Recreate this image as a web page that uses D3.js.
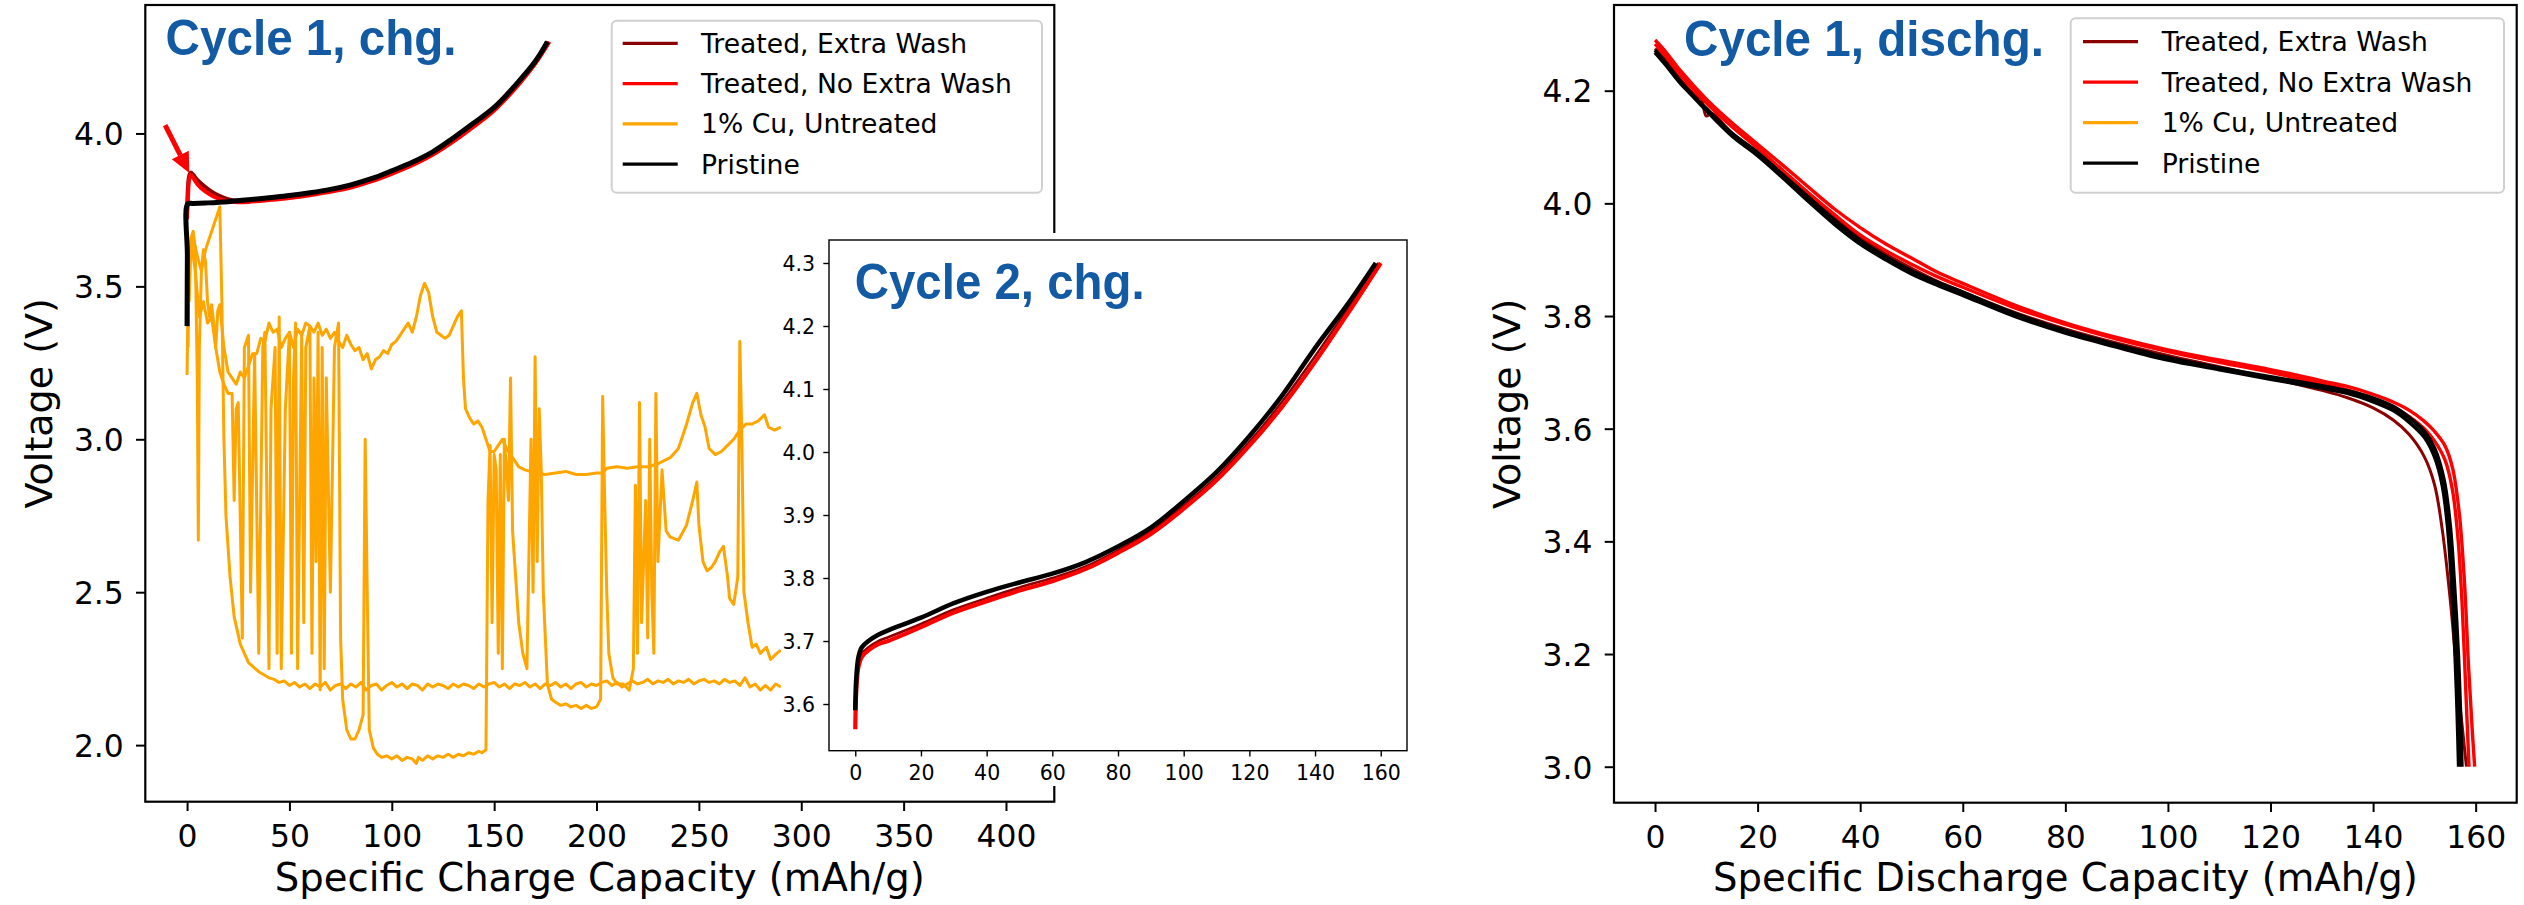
<!DOCTYPE html>
<html>
<head>
<meta charset="utf-8">
<script src="https://cdn.jsdelivr.net/npm/d3@7"></script>
<style>
  body { margin: 0; background: #fff; }
  svg { display: block; }
</style>
</head>
<body>
<svg id="fig" width="2524" height="905"></svg>
<script>
// ---------------- legend ----------------
const legendLabels = ["Treated, Extra Wash", "Treated, No Extra Wash", "1% Cu, Untreated", "Pristine"];
const legendColors = ["#8b0000", "#ff0000", "#ffa500", "#000000"];

// ---------------- ticks ----------------
const chgTicksX = [0, 50, 100, 150, 200, 250, 300, 350, 400];
const chgTicksY = [2.0, 2.5, 3.0, 3.5, 4.0];
const insetTicksX = [0, 20, 40, 60, 80, 100, 120, 140, 160];
const insetTicksY = [3.6, 3.7, 3.8, 3.9, 4.0, 4.1, 4.2, 4.3];
const dchgTicksX = [0, 20, 40, 60, 80, 100, 120, 140, 160];
const dchgTicksY = [3.0, 3.2, 3.4, 3.6, 3.8, 4.0, 4.2];

// ---------------- cycle 1 charge: [capacity mAh/g, voltage V] ----------------
const c1ChgPristine = [[0,3.37],[0.15,3.6],[0.35,3.77],[3,3.771],[10,3.773],[20,3.777],[30,3.783],[40,3.79],[50,3.797],[60,3.806],[70,3.817],[80,3.832],[90,3.852],[100,3.878],[110,3.906],[120,3.94],[130,3.985],[140,4.034],[150,4.085],[160,4.155],[170,4.235],[176,4.30]];
const c1ChgNoWash = [[0,3.72],[0.5,3.80],[1,3.85],[1.8,3.865],[3,3.855],[5,3.835],[8,3.815],[12,3.797],[16,3.785],[20,3.778],[25,3.775],[30,3.776],[40,3.782],[50,3.789],[60,3.798],[70,3.809],[80,3.823],[90,3.843],[100,3.868],[110,3.896],[120,3.93],[130,3.973],[140,4.022],[150,4.075],[160,4.145],[170,4.228],[177,4.30]];
const c1ChgExtraWash = [[0,3.75],[0.5,3.83],[1,3.86],[1.8,3.872],[3,3.865],[5,3.848],[8,3.83],[12,3.81],[16,3.795],[20,3.785],[25,3.779],[30,3.781],[40,3.788],[50,3.795],[60,3.804],[70,3.815],[80,3.83],[90,3.85],[100,3.876],[110,3.904],[120,3.938],[130,3.982],[140,4.031],[150,4.082],[160,4.152],[170,4.232],[176.5,4.30]];

// 1% Cu untreated cells, cycle 1 charge
const c1ChgCuA = [[0,3.21],[0.3,3.36],[1,3.60],[2,3.66],[3,3.68],[4,3.62],[5,3.2],[5.5,2.67],[6,3.3],[7,3.55],[8,3.62],[9,3.58],[10,3.45],[11,3.40],[12,3.44],[13,3.38],[14,3.30],[15,3.42],[16,3.44],[18,3.30],[20,3.22],[22,3.20],[24,3.18],[26,3.22],[28,3.20],[30,3.24],[32,3.28],[34,3.28],[36,3.33],[38,3.32],[40,3.38],[42,3.35],[44,3.36],[46,3.30],[48,3.33],[50,3.35],[52,3.30],[54,3.36],[56,3.34],[58,3.38],[60,3.37],[62,3.35],[64,3.38],[66,3.34],[68,3.36],[70,3.33],[72,3.35],[74,3.32],[76,3.30],[78,3.34],[80,3.31],[82,3.29],[84,3.30],[86,3.26],[88,3.28],[90,3.23],[92,3.26],[94,3.27],[96,3.29],[98,3.28],[100,3.31],[102,3.32],[104,3.34],[106,3.36],[108,3.38],[110,3.35],[112,3.40],[114,3.47],[116,3.51],[118,3.48],[120,3.40],[122,3.35],[124,3.34],[126,3.33],[128,3.34],[130,3.37],[132,3.40],[134,3.42],[135,3.20],[136,3.10],[138,3.07],[140,3.05],[142,3.06],[144,3.04],[146,3.0],[148,2.96],[150,2.96],[152,2.98],[154,3.00],[156,2.97],[158,2.95],[160,2.93],[162,2.91],[165,2.90],[170,2.89],[175,2.885],[180,2.89],[185,2.895],[190,2.885],[195,2.885],[200,2.89],[203,2.89],[205,2.905],[210,2.91],[215,2.905],[220,2.91],[225,2.91],[230,2.92],[233,2.93],[236,2.94],[240,2.97],[244,3.05],[247,3.12],[249,3.15],[251,3.08],[253,3.04],[255,2.97],[258,2.95],[261,2.96],[264,2.98],[267,3.00],[270,3.03],[273,3.05],[276,3.05],[279,3.06],[282,3.08],[284,3.04],[287,3.03],[290,3.04]];
const c1ChgCuB = [[0.5,3.30],[1,3.62],[3,3.66],[5,3.60],[7,3.55],[9,3.62],[11,3.66],[13,3.70],[15,3.74],[16,3.76],[17,3.45],[18,3.0],[19,2.75],[21,2.55],[23,2.42],[26,2.33],[30,2.27],[35,2.24],[40,2.22],[42.5,2.215],[45,2.205],[47.5,2.21],[50,2.195],[52.5,2.205],[55,2.19],[57.5,2.2],[60,2.185],[62.5,2.2],[65,2.19],[67.5,2.205],[70,2.18],[72.5,2.195],[75,2.2],[77.5,2.185],[80,2.2],[82.5,2.19],[85,2.205],[87.5,2.18],[90,2.195],[92.5,2.2],[95,2.18],[97.5,2.195],[100,2.205],[102.5,2.19],[105,2.2],[107.5,2.185],[110,2.2],[112.5,2.195],[115,2.18],[117.5,2.2],[120,2.19],[122.5,2.2],[125,2.195],[127.5,2.185],[130,2.2],[132.5,2.19],[135,2.2],[137.5,2.195],[140,2.185],[142.5,2.2],[145,2.19],[147.5,2.2],[150,2.205],[152.5,2.19],[155,2.2],[157.5,2.185],[160,2.2],[162.5,2.195],[165,2.205],[167.5,2.19],[170,2.2],[172.5,2.185],[175,2.2],[177.5,2.195],[180,2.205],[182.5,2.19],[185,2.2],[187.5,2.185],[190,2.2],[192.5,2.205],[195,2.19],[197.5,2.2],[200,2.195],[202.5,2.205],[205,2.21],[207.5,2.195],[210,2.205],[212.5,2.19],[215,2.2],[217.5,2.21],[220,2.2],[222.5,2.205],[225,2.215],[227.5,2.2],[230,2.21],[232.5,2.205],[235,2.215],[237.5,2.2],[240,2.21],[242.5,2.205],[245,2.215],[247.5,2.2],[250,2.21],[252.5,2.215],[255,2.205],[257.5,2.21],[260,2.2],[262.5,2.215],[265,2.205],[267.5,2.21],[270,2.195],[272.5,2.22],[275,2.19],[277.5,2.2],[280,2.18],[282.5,2.195],[285,2.18],[287.5,2.2],[290,2.19]];
const c1ChgCuC = [[1,3.45],[2,3.65],[4,3.55],[6,3.40],[8,3.45],[10,3.38],[12,3.40],[14,3.30],[16,3.22],[18,3.18],[20,3.15],[22,3.15],[23,2.8],[24,3.1],[25,3.12],[27,2.35],[28,3.3],[30,3.34],[31,2.50],[33,3.28],[35,2.30],[37,3.30],[38,3.35],[40,2.25],[41,3.10],[43,3.30],[44,2.30],[45,3.40],[46,2.25],[48,3.10],[50,3.35],[51,2.30],[52,3.20],[53,3.38],[54,2.25],[56,3.35],[57,2.40],[58,3.30],[60,3.37],[61,2.30],[62,3.20],[63,2.60],[64,3.35],[65,2.18],[66,3.30],[67,2.25],[68,3.20],[70,2.50],[72,3.30],[74,3.38],[75,2.35],[76,2.15],[78,2.05],[80,2.02],[82,2.02],[84,2.05],[86,2.10],[87,3.00],[88,2.50],[89,2.05],[91,1.99],[93,1.97],[95,1.96],[97.5,1.965],[100,1.955],[102.5,1.965],[105,1.95],[107.5,1.96],[110,1.955],[112,1.94],[113,1.96],[115,1.95],[117.5,1.965],[120,1.955],[122.5,1.965],[125,1.96],[127.5,1.97],[130,1.96],[132.5,1.97],[135,1.965],[137.5,1.975],[140,1.97],[142.5,1.98],[144,1.975],[146,1.985],[147,2.8],[148,2.98],[149,2.4],[150,2.95],[151,2.90],[152,2.3],[153,2.95],[154,2.25],[155,3.00],[157,2.8],[158,3.2],[159,2.7],[160,2.6],[162,2.4],[164,2.3],[166,2.25],[168,3.0],[169,2.5],[170,3.27],[171,2.6],[172,3.1],[173,2.9],[174,2.5],[176,2.2],[178,2.15],[180,2.14],[182.5,2.13],[185,2.135],[187.5,2.125],[190,2.13],[192.5,2.12],[195,2.13],[197.5,2.12],[200,2.125],[202,2.15],[203,3.14],[204,2.8],[205,2.5],[206,2.3],[208,2.22],[210,2.2],[213,2.2],[216,2.18],[218,2.25],[219,2.85],[220,2.3],[221,3.12],[222,2.4],[224,2.8],[225,2.35],[226,3.0],[227,2.5],[228,2.3],[229,3.15],[230,2.6],[232,2.9],[234,2.7],[236,2.68],[240,2.67],[244,2.72],[247,2.80],[249,2.86],[250,2.72],[252,2.60],[254,2.57],[256,2.58],[258,2.60],[260,2.63],[262,2.65],[264,2.55],[265,2.48],[267,2.46],[269,2.55],[270,3.32],[271,3.0],[272,2.50],[274,2.40],[276,2.32],[278,2.33],[280,2.30],[283,2.32],[285,2.28],[288,2.30],[290,2.31]];

// ---------------- cycle 2 charge ----------------
const c2ChgPristine = [[0,3.59],[0.3,3.64],[1,3.675],[2,3.69],[4,3.70],[7,3.71],[10,3.717],[20,3.737],[30,3.76],[40,3.778],[50,3.793],[60,3.807],[70,3.825],[80,3.85],[90,3.88],[100,3.922],[110,3.968],[120,4.025],[130,4.09],[140,4.165],[150,4.235],[158.5,4.30]];
const c2ChgNoWash = [[0,3.56],[0.3,3.62],[1,3.66],[2,3.675],[4,3.685],[7,3.695],[10,3.70],[20,3.722],[30,3.745],[40,3.763],[50,3.78],[60,3.795],[70,3.814],[80,3.84],[90,3.87],[100,3.91],[110,3.955],[120,4.01],[130,4.072],[140,4.143],[150,4.22],[160,4.30]];
const c2ChgExtraWash = [[0,3.58],[0.3,3.63],[1,3.665],[2,3.68],[4,3.69],[7,3.70],[10,3.706],[20,3.727],[30,3.75],[40,3.768],[50,3.785],[60,3.8],[70,3.818],[80,3.844],[90,3.875],[100,3.915],[110,3.96],[120,4.016],[130,4.08],[140,4.152],[150,4.228],[159.3,4.30]];

// ---------------- cycle 1 discharge ----------------
const c1DchgPristineA = [[0,4.272],[2,4.25],[5,4.215],[10,4.165],[15,4.12],[20,4.085],[25,4.045],[30,4.003],[35,3.963],[40,3.928],[45,3.9],[50,3.875],[55,3.855],[60,3.837],[70,3.8],[80,3.77],[90,3.745],[100,3.722],[110,3.705],[120,3.688],[130,3.672],[135,3.663],[140,3.648],[144,3.632],[147,3.612],[150,3.585],[152,3.55],[153.5,3.5],[154.5,3.43],[155.3,3.33],[156,3.2],[156.4,3.1],[156.7,3.0]];
const c1DchgPristineB = [[0,4.268],[2,4.247],[5,4.213],[10,4.168],[15,4.124],[20,4.09],[25,4.05],[30,4.01],[35,3.97],[40,3.934],[45,3.905],[50,3.88],[55,3.86],[60,3.842],[70,3.805],[80,3.774],[90,3.749],[100,3.726],[110,3.708],[120,3.692],[130,3.676],[135,3.667],[140,3.654],[144,3.639],[147,3.62],[150,3.595],[152,3.565],[153.8,3.51],[155,3.43],[155.8,3.33],[156.6,3.2],[157,3.1],[157.3,3.0]];
const c1DchgExtraWash = [[0,4.275],[2,4.255],[5,4.22],[8,4.19],[9,4.185],[10,4.155],[11,4.16],[15,4.125],[20,4.09],[25,4.05],[30,4.012],[35,3.975],[40,3.94],[45,3.91],[50,3.885],[55,3.862],[60,3.843],[70,3.807],[80,3.777],[90,3.752],[100,3.73],[110,3.71],[120,3.69],[130,3.668],[135,3.655],[140,3.637],[144,3.615],[147,3.59],[150,3.55],[152,3.5],[153.5,3.42],[155,3.3],[156.5,3.15],[158.2,3.0]];
const c1DchgNoWashA = [[0,4.29],[2,4.27],[5,4.235],[10,4.185],[15,4.143],[20,4.105],[25,4.067],[30,4.028],[35,3.99],[40,3.957],[45,3.928],[50,3.903],[55,3.878],[60,3.858],[70,3.82],[80,3.788],[90,3.762],[100,3.74],[110,3.722],[120,3.705],[130,3.685],[135,3.675],[140,3.661],[144,3.647],[147,3.633],[150,3.613],[152,3.595],[154,3.57],[155.5,3.53],[156.8,3.45],[157.8,3.33],[158.6,3.18],[159.3,3.07],[159.8,3.0]];
const c1DchgNoWashB = [[0,4.283],[2,4.262],[5,4.228],[10,4.178],[15,4.136],[20,4.098],[25,4.058],[30,4.018],[35,3.98],[40,3.944],[45,3.916],[50,3.892],[55,3.87],[60,3.851],[70,3.815],[80,3.785],[90,3.759],[100,3.737],[110,3.718],[120,3.7],[130,3.68],[135,3.669],[140,3.654],[144,3.638],[147,3.622],[150,3.6],[152,3.578],[154,3.545],[155.5,3.49],[156.6,3.4],[157.4,3.28],[158.1,3.13],[158.7,3.0]];

// annotation arrow: tail and head in data units of the cycle 1 charge panel
const arrowTail = [-10.7, 4.027];
const arrowHead = [1.1, 3.871];

// ---------------- drawing ----------------
const svg = d3.select("#fig");
const TICK_FONT = "DejaVu Sans, sans-serif";
const TITLE_BLUE = "#135aa4";

function panel(opt) {
  const x = d3.scaleLinear().domain(opt.xDomain).range([opt.left, opt.right]);
  const y = d3.scaleLinear().domain(opt.yDomain).range([opt.bottom, opt.top]);
  const g = svg.append("g");
  if (opt.background) {
    g.append("rect").attr("x", opt.left).attr("y", opt.top)
      .attr("width", opt.right - opt.left).attr("height", opt.bottom - opt.top)
      .attr("fill", "#fff");
  }
  const clipId = "clip" + Math.round(opt.left);
  g.append("clipPath").attr("id", clipId).append("rect")
    .attr("x", opt.left).attr("y", opt.top)
    .attr("width", opt.right - opt.left).attr("height", opt.bottom - opt.top);
  const plot = g.append("g").attr("clip-path", `url(#${clipId})`);
  return { x, y, g, plot, opt };
}

function drawLine(p, data, color, width, curve) {
  const line = d3.line().x(d => p.x(d[0])).y(d => p.y(d[1])).curve(curve || d3.curveLinear);
  p.plot.append("path").datum(data).attr("d", line)
    .attr("fill", "none").attr("stroke", color).attr("stroke-width", width)
    .attr("stroke-linejoin", "round").attr("stroke-linecap", "butt");
}

function drawAxes(p, a) {
  const o = p.opt;
  const gx = p.g.append("g").attr("transform", `translate(0,${o.bottom})`)
    .call(d3.axisBottom(p.x).tickValues(a.xTicks).tickFormat(d3.format("d"))
      .tickSize(a.tickLen).tickPadding(a.xPad).tickSizeOuter(0));
  const gy = p.g.append("g").attr("transform", `translate(${o.left},0)`)
    .call(d3.axisLeft(p.y).tickValues(a.yTicks).tickFormat(d3.format(".1f"))
      .tickSize(a.tickLen).tickPadding(a.yPad).tickSizeOuter(0));
  [gx, gy].forEach(ax => {
    ax.select(".domain").remove();
    ax.selectAll(".tick line").attr("stroke", "#000").attr("stroke-width", a.tickW);
    ax.selectAll(".tick text").attr("fill", "#000")
      .attr("font-family", TICK_FONT).attr("font-size", a.fontSize);
  });
  gy.selectAll(".tick text").attr("dy", "0.36em");
  p.g.append("rect").attr("x", o.left).attr("y", o.top)
    .attr("width", o.right - o.left).attr("height", o.bottom - o.top)
    .attr("fill", "none").attr("stroke", "#000").attr("stroke-width", a.frameW);
}

function axisTitles(p, xText, yText, yTitleX) {
  const o = p.opt;
  p.g.append("text").attr("x", (o.left + o.right) / 2).attr("y", 891)
    .attr("text-anchor", "middle").attr("font-family", TICK_FONT).attr("font-size", 38.6)
    .text(xText);
  p.g.append("text").attr("transform", `translate(${yTitleX},${(o.top + o.bottom) / 2}) rotate(-90)`)
    .attr("text-anchor", "middle").attr("font-family", TICK_FONT).attr("font-size", 38)
    .text(yText);
}

function panelTitle(p, text, x, yBase, len) {
  p.g.append("text").attr("x", x).attr("y", yBase)
    .attr("font-family", "Liberation Sans, Arial, sans-serif").attr("font-weight", "bold")
    .attr("font-size", 50).attr("fill", TITLE_BLUE)
    .attr("textLength", len).attr("lengthAdjust", "spacingAndGlyphs")
    .text(text);
}

function legend(box) {
  const g = svg.append("g");
  g.append("rect").attr("x", box.x).attr("y", box.y).attr("width", box.w).attr("height", box.h)
    .attr("rx", 5).attr("fill", "#fff").attr("fill-opacity", 0.9)
    .attr("stroke", "#d0d0d0").attr("stroke-width", 2);
  legendLabels.forEach((lab, i) => {
    const cy = box.rowY0 + i * box.rowStep;
    g.append("line").attr("x1", box.hx0).attr("x2", box.hx1).attr("y1", cy).attr("y2", cy)
      .attr("stroke", legendColors[i]).attr("stroke-width", 3.2);
    g.append("text").attr("x", box.tx).attr("y", cy).attr("dy", "0.36em")
      .attr("font-family", TICK_FONT).attr("font-size", 26.6).attr("fill", "#000").text(lab);
  });
}

const smooth = d3.curveCatmullRom.alpha(0.5);

// ===== Cycle 1 charge panel =====
const pL = panel({ left: 145.3, right: 1054.3, top: 5, bottom: 801.7, xDomain: [-20.4, 423.6], yDomain: [1.815, 4.42] });
drawLine(pL, c1ChgExtraWash, legendColors[0], 4, smooth);
drawLine(pL, c1ChgNoWash, legendColors[1], 4, smooth);
drawLine(pL, c1ChgCuA, legendColors[2], 3);
drawLine(pL, c1ChgCuB, legendColors[2], 3);
drawLine(pL, c1ChgCuC, legendColors[2], 3);
drawLine(pL, c1ChgPristine, legendColors[3], 5, smooth);

// red arrow pointing at the first-cycle overshoot
{
  const x1 = pL.x(arrowTail[0]), y1 = pL.y(arrowTail[1]);
  const x2 = pL.x(arrowHead[0]), y2 = pL.y(arrowHead[1]);
  const ang = Math.atan2(y2 - y1, x2 - x1);
  const headLen = 20, headHalf = 9.5;
  const bx = x2 - headLen * Math.cos(ang), by = y2 - headLen * Math.sin(ang);
  pL.g.append("line").attr("x1", x1).attr("y1", y1).attr("x2", bx).attr("y2", by)
    .attr("stroke", "#ff0000").attr("stroke-width", 5);
  const nx = -Math.sin(ang), ny = Math.cos(ang);
  pL.g.append("polygon")
    .attr("points", [[x2, y2], [bx + nx * headHalf, by + ny * headHalf], [bx - nx * headHalf, by - ny * headHalf]].map(p => p.join(",")).join(" "))
    .attr("fill", "#ff0000");
}

drawAxes(pL, { xTicks: chgTicksX, yTicks: chgTicksY, tickLen: 9.3, tickW: 2, xPad: 13.7, yPad: 12.2, fontSize: 31.4, frameW: 2.2 });
axisTitles(pL, "Specific Charge Capacity (mAh/g)", "Voltage (V)", 51.5);
panelTitle(pL, "Cycle 1, chg.", 165.6, 55, 291);
legend({ x: 611.7, y: 20.7, w: 430.3, h: 172, hx0: 622.7, hx1: 677.7, tx: 701, rowY0: 43.3, rowStep: 40.3 });

// ===== Cycle 2 charge inset =====
svg.append("rect").attr("x", 781).attr("y", 233).attr("width", 640).attr("height", 553).attr("fill", "#fff");
const pI = panel({ left: 829, right: 1407, top: 240, bottom: 750.7, xDomain: [-8, 168], yDomain: [3.5259, 4.3365], background: true });
drawLine(pI, c2ChgExtraWash, legendColors[0], 2.5, smooth);
drawLine(pI, c2ChgNoWash, legendColors[1], 4.2, smooth);
drawLine(pI, c2ChgPristine, legendColors[3], 4.6, smooth);
drawAxes(pI, { xTicks: insetTicksX, yTicks: insetTicksY, tickLen: 5.7, tickW: 1.4, xPad: 9.4, yPad: 8.3, fontSize: 20.5, frameW: 1.4 });
panelTitle(pI, "Cycle 2, chg.", 854.7, 299, 290);

// ===== Cycle 1 discharge panel =====
const pR = panel({ left: 1614, right: 2516.7, top: 5, bottom: 802.7, xDomain: [-8, 168], yDomain: [2.9361, 4.3521] });
drawLine(pR, c1DchgExtraWash, legendColors[0], 3, smooth);
drawLine(pR, c1DchgNoWashA, legendColors[1], 3.4, smooth);
drawLine(pR, c1DchgNoWashB, legendColors[1], 3.4, smooth);
drawLine(pR, c1DchgPristineA, legendColors[3], 3.8, smooth);
drawLine(pR, c1DchgPristineB, legendColors[3], 3.8, smooth);
drawAxes(pR, { xTicks: dchgTicksX, yTicks: dchgTicksY, tickLen: 9.3, tickW: 2, xPad: 13.7, yPad: 12.2, fontSize: 31.4, frameW: 2.2 });
axisTitles(pR, "Specific Discharge Capacity (mAh/g)", "Voltage (V)", 1519.5);
panelTitle(pR, "Cycle 1, dischg.", 1684, 56, 360);
legend({ x: 2070.7, y: 18.3, w: 433.3, h: 174.4, hx0: 2083, hx1: 2138, tx: 2161.7, rowY0: 41.7, rowStep: 40.5 });
</script>
</body>
</html>
